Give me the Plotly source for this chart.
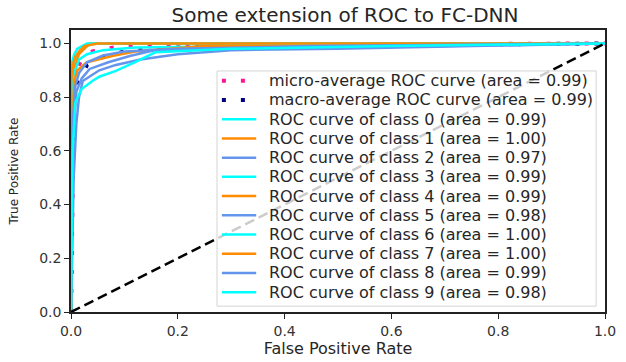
import plotly.graph_objects as go

# ROC points (false positive rate, true positive rate) per curve
micro_fpr = [0.0, 0.003, 0.004, 0.006, 0.01, 0.02, 0.04, 0.08, 0.2, 0.5, 1.0]
micro_tpr = [0.0, 0.40, 0.75, 0.85, 0.90, 0.94, 0.97, 0.985, 0.993, 0.997, 1.0]
macro_fpr = [0.0, 0.002, 0.005, 0.017, 0.03, 0.06, 0.10, 0.2, 0.4, 0.7, 1.0]
macro_tpr = [0.0, 0.60, 0.80, 0.87, 0.92, 0.95, 0.97, 0.985, 0.99, 0.995, 1.0]

fpr_c0 = [0.0, 0.0, 0.002, 0.005, 0.01, 0.02, 0.03, 0.04, 1.0]
tpr_c0 = [0.0, 0.60, 0.85, 0.93, 0.95, 0.98, 0.99, 1.0, 1.0]
fpr_c1 = [0.0, 0.0, 0.003, 0.01, 0.015, 0.035, 0.19, 0.25, 1.0]
tpr_c1 = [0.0, 0.72, 0.90, 0.93, 0.96, 1.0, 1.0, 1.0, 1.0]
fpr_c2 = [0.0, 0.005, 0.01, 0.015, 0.022, 0.053, 0.084, 0.13, 0.2, 0.3, 0.5, 0.75, 1.0]
tpr_c2 = [0.0, 0.50, 0.70, 0.80, 0.86, 0.90, 0.92, 0.94, 0.96, 0.975, 0.98, 0.99, 1.0]
fpr_c3 = [0.0, 0.0, 0.003, 0.008, 0.015, 0.03, 0.06, 0.12, 0.4, 1.0]
tpr_c3 = [0.0, 0.55, 0.82, 0.90, 0.94, 0.96, 0.975, 0.985, 0.99, 1.0]
fpr_c4 = [0.0, 0.002, 0.006, 0.012, 0.03, 0.077, 0.12, 0.25, 0.5, 1.0]
tpr_c4 = [0.0, 0.75, 0.86, 0.90, 0.93, 0.953, 0.97, 0.99, 0.995, 1.0]
fpr_c5 = [0.0, 0.004, 0.01, 0.02, 0.035, 0.07, 0.11, 0.158, 0.35, 0.7, 1.0]
tpr_c5 = [0.0, 0.65, 0.82, 0.87, 0.905, 0.93, 0.953, 0.975, 0.98, 0.99, 1.0]
fpr_c6 = [0.0, 0.0, 0.002, 0.006, 0.012, 0.02, 0.03, 1.0]
tpr_c6 = [0.0, 0.80, 0.93, 0.96, 0.98, 0.99, 1.0, 1.0]
fpr_c7 = [0.0, 0.0, 0.003, 0.008, 0.015, 0.025, 0.05, 1.0]
tpr_c7 = [0.0, 0.85, 0.92, 0.95, 0.97, 0.99, 1.0, 1.0]
fpr_c8 = [0.0, 0.003, 0.008, 0.015, 0.03, 0.06, 0.1, 0.2, 0.45, 1.0]
tpr_c8 = [0.0, 0.70, 0.84, 0.89, 0.93, 0.955, 0.97, 0.98, 0.99, 1.0]
fpr_c9 = [0.0, 0.003, 0.008, 0.02, 0.04, 0.053, 0.084, 0.12, 0.158, 0.3, 0.6, 1.0]
tpr_c9 = [0.0, 0.60, 0.78, 0.83, 0.86, 0.876, 0.898, 0.93, 0.967, 0.98, 0.99, 1.0]

class_fpr = [fpr_c0, fpr_c1, fpr_c2, fpr_c3, fpr_c4, fpr_c5, fpr_c6, fpr_c7, fpr_c8, fpr_c9]
class_tpr = [tpr_c0, tpr_c1, tpr_c2, tpr_c3, tpr_c4, tpr_c5, tpr_c6, tpr_c7, tpr_c8, tpr_c9]
class_auc = [0.99, 1.00, 0.97, 0.99, 0.99, 0.98, 1.00, 1.00, 0.99, 0.98]
micro_auc = 0.99
macro_auc = 0.99

diag = [0.0, 1.0]
tick_vals = [0.0, 0.2, 0.4, 0.6, 0.8, 1.0]
palette = ["aqua", "darkorange", "cornflowerblue"]

FONT = "DejaVu Sans"
TEXT = "#262626"
AVG_DASH = "4px,15px"

fig = go.Figure()
legend_rows = []  # (label, colour, dash) in drawing order

label = f"micro-average ROC curve (area = {micro_auc:.2f})"
fig.add_trace(go.Scatter(x=micro_fpr, y=micro_tpr, mode="lines", name=label, showlegend=False,
                         line=dict(color="deeppink", width=4, dash=AVG_DASH)))
legend_rows.append((label, "deeppink", AVG_DASH))

label = f"macro-average ROC curve (area = {macro_auc:.2f})"
fig.add_trace(go.Scatter(x=macro_fpr, y=macro_tpr, mode="lines", name=label, showlegend=False,
                         line=dict(color="navy", width=4, dash=AVG_DASH)))
legend_rows.append((label, "navy", AVG_DASH))

for i, (fx, ty) in enumerate(zip(class_fpr, class_tpr)):
    label = f"ROC curve of class {i} (area = {class_auc[i]:.2f})"
    colour = palette[i % 3]
    fig.add_trace(go.Scatter(x=fx, y=ty, mode="lines", name=label, showlegend=False,
                             line=dict(color=colour, width=2.5)))
    legend_rows.append((label, colour, "solid"))

fig.add_trace(go.Scatter(x=diag, y=diag, mode="lines", showlegend=False,
                         line=dict(color="black", width=2.5, dash="10px,5px")))

# Plot-area geometry in pixels, used to lay out the legend box
W, H = 626, 362
ML, MR, MT, MB = 71, 10, 30, 43
PW, PH = W - ML - MR, H - MT - MB


def px_x(p):
    return (p - ML) / PW


def px_y(p):
    return (H - MB - p) / PH


# Legend panel in the lower right of the axes, semi-transparent white
shapes = [dict(type="rect", xref="paper", yref="paper", layer="above",
               x0=px_x(220), x1=px_x(607), y0=px_y(313), y1=px_y(72),
               fillcolor="rgba(255,255,255,0.8)", line=dict(color="#d4d4d4", width=1))]
annotations = []
row0, row_step = 82.0, 19.7
for k, (label, colour, dash) in enumerate(legend_rows):
    yc = px_y(row0 + row_step * k)
    width = 4 if dash != "solid" else 2.5
    shapes.append(dict(type="line", xref="paper", yref="paper", layer="above",
                       x0=px_x(225), x1=px_x(260), y0=yc, y1=yc,
                       line=dict(color=colour, width=width, dash=dash)))
    annotations.append(dict(xref="paper", yref="paper", x=px_x(271), y=yc,
                            xanchor="left", yanchor="middle", showarrow=False,
                            text=label, font=dict(family=FONT, size=16, color=TEXT)))

axis_common = dict(
    showgrid=False, zeroline=False, showline=True, mirror=True,
    linecolor="#222", linewidth=1.5, ticks="outside", ticklen=5,
    tickcolor="#222", tickwidth=1.2, tickvals=tick_vals, tickformat=".1f",
    tickfont=dict(family=FONT, size=14, color="#333"),
)

fig.update_layout(
    width=W, height=H,
    margin=dict(l=ML, r=MR, t=MT, b=MB),
    paper_bgcolor="white", plot_bgcolor="white",
    font=dict(family=FONT, color=TEXT),
    title=dict(text="Some extension of ROC to FC-DNN", x=345 / W, xanchor="center",
               y=1 - 15 / H, yanchor="middle",
               font=dict(family=FONT, size=20, color=TEXT)),
    xaxis=dict(range=[0, 1],
               title=dict(text="False Positive Rate", standoff=2,
                          font=dict(family=FONT, size=16, color=TEXT)),
               **axis_common),
    yaxis=dict(range=[0, 1.05],
               title=dict(text="True Positive Rate", standoff=18,
                          font=dict(family=FONT, size=12, color=TEXT)),
               **axis_common),
    shapes=shapes,
    annotations=annotations,
    showlegend=False,
)

fig.write_html("out.html")
